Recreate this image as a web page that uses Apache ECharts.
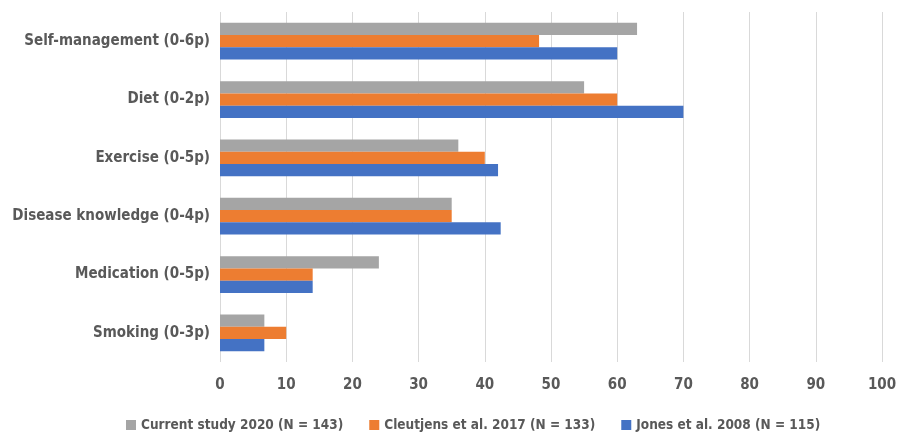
<!DOCTYPE html>
<html>
<head>
<meta charset="utf-8">
<script src="https://cdn.jsdelivr.net/npm/echarts@6/dist/echarts.min.js"></script>
<style>
  html, body { margin: 0; padding: 0; background: #fff; }
  #chart { width: 912px; height: 432px; }
</style>
</head>
<body>
<div id="chart"></div>
<script>
// categories, top to bottom
var categories = ['Self-management (0-6p)', 'Diet (0-2p)', 'Exercise (0-5p)',
    'Disease knowledge (0-4p)', 'Medication (0-5p)', 'Smoking (0-3p)'];

var seriesNames = ['Current study 2020 (N = 143)', 'Cleutjens et al. 2017 (N = 133)', 'Jones et al. 2008 (N = 115)'];
var current2020 = [63, 55, 36, 35, 24, 6.7];
var cleutjens2017 = [48.2, 60, 40, 35, 14, 10];
var jones2008 = [60, 70, 42, 42.4, 14, 6.7];

var colors = ['#A5A5A5', '#ED7D31', '#4472C4'];
var fontFam = '"Liberation Sans Narrow", "DejaVu Sans Condensed", Arial, sans-serif';

var chart = echarts.init(document.getElementById('chart'));

var values = [current2020, cleutjens2017, jones2008];
var series = [];
for (var i = 0; i < seriesNames.length; i++) {
    series.push({
        name: seriesNames[i],
        type: 'bar',
        data: values[i],
        barGap: '0%',
        barCategoryGap: '37%',
        itemStyle: { color: colors[i] }
    });
}

chart.setOption({
    animation: false,
    color: colors,
    grid: { left: 220, right: 30, top: 12, bottom: 70 },
    legend: {
        top: 413,
        left: 121,
        itemWidth: 10,
        itemHeight: 10,
        itemGap: 26,
        icon: 'rect',
        textStyle: { color: '#595959', fontSize: 13.5, fontWeight: 'bold', fontFamily: fontFam },
        data: seriesNames
    },
    xAxis: {
        type: 'value',
        min: 0,
        max: 100,
        interval: 10,
        axisLine: { show: false },
        axisTick: { show: false },
        axisLabel: { color: '#595959', fontSize: 15, fontWeight: 'bold', fontFamily: fontFam, margin: 16 },
        splitLine: { lineStyle: { color: '#D9D9D9' } }
    },
    yAxis: {
        type: 'category',
        inverse: true,
        data: categories,
        axisLine: { show: false },
        axisTick: { show: false },
        axisLabel: { color: '#595959', fontSize: 15, fontWeight: 'bold', fontFamily: fontFam, margin: 10 }
    },
    series: series
});
</script>
</body>
</html>
